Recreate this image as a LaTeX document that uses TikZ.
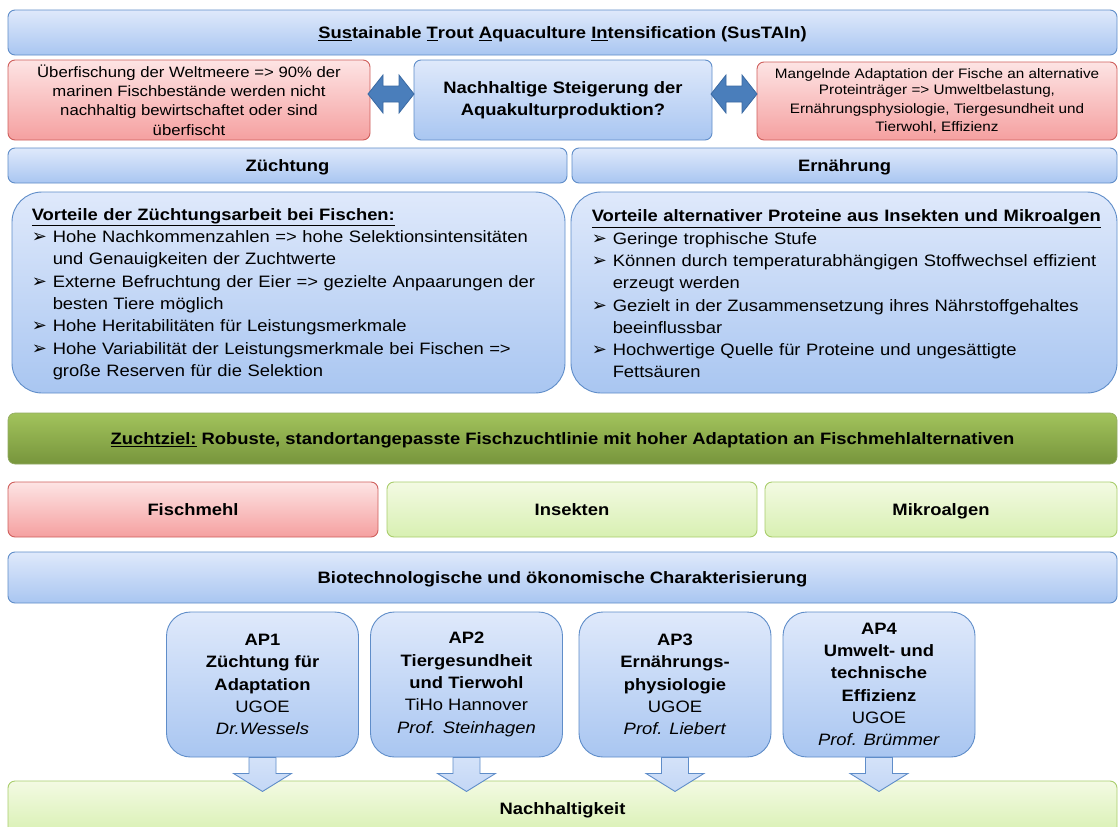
\documentclass[tikz,border=0pt]{standalone}
\usepackage{fontspec}
\setmainfont{Liberation Sans}[FakeStretch=1.115]
\newfontfamily\symfont{DejaVu Sans}
\usetikzlibrary{positioning}

\definecolor{blueTop}{HTML}{DFE9FB}
\definecolor{blueBot}{HTML}{A9C6F1}
\definecolor{blueLine}{HTML}{5F8DC9}
\definecolor{redTop}{HTML}{FDE4E4}
\definecolor{redBot}{HTML}{F5A0A0}
\definecolor{redLine}{HTML}{CF5F5C}
\definecolor{lgTop}{HTML}{F3FAE3}
\definecolor{lgBot}{HTML}{D8F0B2}
\definecolor{lgLine}{HTML}{A9CD6C}
\definecolor{dgTop}{HTML}{A2C35C}
\definecolor{dgBot}{HTML}{77953C}
\definecolor{arrBlue}{HTML}{4A7EBB}
\definecolor{arrLine}{HTML}{3A6AA3}

\newcommand\bodyfont{\fontsize{16.5}{22.3}\selectfont\hyphenpenalty=10000 }
\newcommand\pkt{\makebox[21pt][l]{\symfont\fontsize{18}{18}\selectfont ➢}}
\newcommand\aitem[1]{\par\hangindent=21pt\hangafter=1\noindent\pkt#1\par}
% double arrow between the top boxes
\newcommand\dblarrow[1]{\draw[dblarr, shift={(#1)}] (-23,0) -- (-8,-19) -- (-8,-8) -- (8,-8) -- (8,-19) -- (23,0) -- (8,19) -- (8,8) -- (-8,8) -- (-8,19) -- cycle;}
% block arrow below an AP box
\newcommand\apdown[1]{\draw[downarr, shift={(#1)}] (-13.5,0) -- (13.5,0) -- (13.5,16) -- (29,16) -- (0,34) -- (-29,16) -- (-13.5,16) -- cycle;}

\tikzset{
  bluebox/.style={draw=blueLine, line width=0.9pt, rounded corners=7pt, top color=blueTop, bottom color=blueBot, align=center, inner sep=2pt, font=\bodyfont\bfseries},
  redbox/.style={draw=redLine, line width=0.9pt, rounded corners=7pt, top color=redTop, bottom color=redBot, align=center, inner sep=2pt},
  lgbox/.style={draw=lgLine, line width=0.9pt, rounded corners=7pt, top color=lgTop, bottom color=lgBot, align=center, inner sep=2pt, font=\bodyfont\bfseries},
  dgbox/.style={draw=dgBot!80!white, line width=0.6pt, rounded corners=7pt, top color=dgTop, bottom color=dgBot, align=center, inner sep=2pt, font=\bodyfont\bfseries},
  oneline/.style={text height=14pt, text depth=1.5pt},
  bigbox/.style={bluebox, rounded corners=30pt},
  bigtext/.style={anchor=west, align=left, inner sep=0pt, text width=530pt, font=\bodyfont},
  apbox/.style={bluebox, rounded corners=24pt, font=\bodyfont, minimum width=192pt, minimum height=145pt},
  dblarr/.style={draw=arrLine, line width=0.8pt, fill=arrBlue},
  downarr/.style={draw=blueLine, line width=0.9pt, top color=blueTop!80!blueBot, bottom color=blueBot!70!white}
}

\begin{document}
\begin{tikzpicture}[x=1pt,y=-1pt]
\useasboundingbox[fill=white] (0,0) rectangle (1119,827);

% top row
\node[bluebox, oneline, minimum width=1109pt, minimum height=45pt] (title) at (562.5,32.5)
  {\underline{Sus}tainable \underline{T}rout \underline{A}quaculture \underline{In}tensification (SusTAIn)};
\node[redbox, minimum width=362pt, minimum height=80pt, font=\fontsize{15}{19.2}\selectfont] (overfish) at (189,100)
  {Überfischung der Weltmeere => 90\% der\\marinen Fischbestände werden nicht\\nachhaltig bewirtschaftet oder sind\\überfischt};
\node[bluebox, minimum width=298pt, minimum height=80pt] (question) at (563,100)
  {\raisebox{-2pt}{Nachhaltige Steigerung der}\\\raisebox{-2pt}{Aquakulturproduktion?}};
\node[redbox, minimum width=360pt, minimum height=78pt, font=\fontsize{13.7}{18.5}\selectfont] (adapt) at (937,101)
  {\raisebox{-2pt}{Mangelnde Adaptation der Fische an alternative}\\Proteinträger => Umweltbelastung,\\Ernährungsphysiologie, Tiergesundheit und\\Tierwohl, Effizienz};
\coordinate (dA) at (391,94);
\coordinate (dB) at (734,94);
\dblarrow{dA}
\dblarrow{dB}

% Zuechtung / Ernaehrung
\node[bluebox, oneline, minimum width=559pt, minimum height=35pt] (zucht) at (287.5,165.5) {Züchtung};
\node[bluebox, oneline, minimum width=545pt, minimum height=35pt] (ernaehr) at (844.5,165.5) {Ernährung};

\node[bigbox, minimum width=553pt, minimum height=201pt] (vortZ) at (288.5,292.5) {};
\node[bigtext] (vortZtxt) at ([xshift=20pt,yshift=-1.5pt]vortZ.west)
  {\underline{\textbf{Vorteile der Züchtungsarbeit bei Fischen:}}
   \aitem{Hohe Nachkommenzahlen => hohe Selektionsintensitäten\newline und Genauigkeiten der Zuchtwerte}
   \aitem{Externe Befruchtung der Eier => gezielte Anpaarungen der\newline besten Tiere möglich}
   \aitem{Hohe Heritabilitäten für Leistungsmerkmale}
   \aitem{Hohe Variabilität der Leistungsmerkmale bei Fischen =>\newline große Reserven für die Selektion}};
\node[bigbox, minimum width=546pt, minimum height=201pt] (vortE) at (844,292.5) {};
\node[bigtext] (vortEtxt) at ([xshift=21pt,yshift=-1.5pt]vortE.west)
  {\underline{\textbf{Vorteile alternativer Proteine aus Insekten und Mikroalgen}}
   \aitem{Geringe trophische Stufe}
   \aitem{Können durch temperaturabhängigen Stoffwechsel effizient\newline erzeugt werden}
   \aitem{Gezielt in der Zusammensetzung ihres Nährstoffgehaltes\newline beeinflussbar}
   \aitem{Hochwertige Quelle für Proteine und ungesättigte\newline Fettsäuren}};

% Zuchtziel and feeds
\node[dgbox, oneline, minimum width=1109pt, minimum height=51pt] (ziel) at (562.5,438.5)
  {\underline{Zuchtziel:} Robuste, standortangepasste Fischzuchtlinie mit hoher Adaptation an Fischmehlalternativen};
\node[redbox, oneline, font=\bodyfont\bfseries, minimum width=370pt, minimum height=55pt] (fisch) at (193,509.5) {Fischmehl};
\node[lgbox, oneline, minimum width=370pt, minimum height=55pt] (insekt) at (572,509.5) {Insekten};
\node[lgbox, oneline, minimum width=352pt, minimum height=55pt] (mikro) at (941,509.5) {Mikroalgen};
\node[bluebox, oneline, minimum width=1109pt, minimum height=51pt] (biotech) at (562.5,577.5)
  {Biotechnologische und ökonomische Charakterisierung};

% work packages
\node[lgbox, oneline, minimum width=1109pt, minimum height=54pt] (nachh) at (562.5,808) {Nachhaltigkeit};
\node[apbox] (ap1) at (262.5,684.5) {\textbf{AP1}\\\textbf{Züchtung für}\\\textbf{Adaptation}\\UGOE\\\textit{Dr.Wessels}};
\node[apbox] (ap2) at (466.5,684.5) {\textbf{AP2}\\\textbf{Tiergesundheit}\\\textbf{und Tierwohl}\\TiHo Hannover\\\textit{Prof. Steinhagen}};
\node[apbox] (ap3) at (675,684.5) {\textbf{AP3}\\\textbf{Ernährungs-}\\\textbf{physiologie}\\UGOE\\\textit{Prof. Liebert}};
\node[apbox] (ap4) at (879,684.5) {\textbf{AP4}\\\textbf{Umwelt- und}\\\textbf{technische}\\\textbf{Effizienz}\\UGOE\\\textit{Prof. Brümmer}};
\foreach \ap in {ap1,ap2,ap3,ap4}
  {\apdown{\ap.south}}
\end{tikzpicture}
\end{document}
